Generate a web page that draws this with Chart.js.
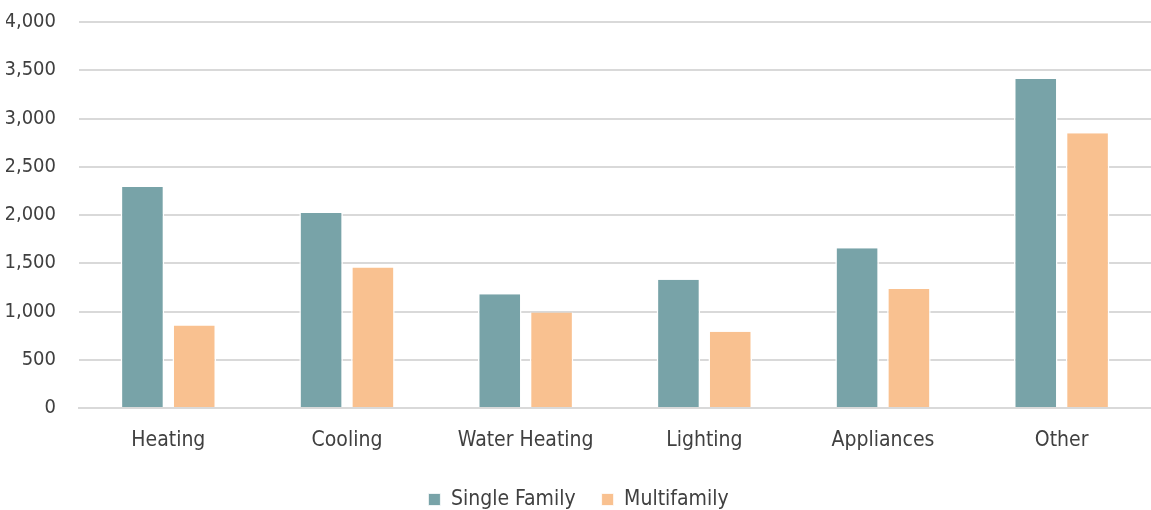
<!DOCTYPE html>
<html>
<head>
<meta charset="utf-8">
<script src="https://cdn.jsdelivr.net/npm/chart.js@4.4.1/dist/chart.umd.min.js"></script>
<style>
  html, body { margin: 0; padding: 0; background: #ffffff; }
  #wrap { width: 1151px; height: 510px; position: relative; }
</style>
</head>
<body>
<div id="wrap"><canvas id="chart"></canvas></div>
<script>
// End-use categories and annual consumption per household type
const categories = ["Heating", "Cooling", "Water Heating", "Lighting", "Appliances", "Other"];
const singleFamily = [2290, 2020, 1180, 1330, 1656, 3410];
const multifamily = [855, 1455, 990, 790, 1233, 2848];
const seriesNames = ["Single Family", "Multifamily"];
const yTicks = [0, 500, 1000, 1500, 2000, 2500, 3000, 3500, 4000];

const FONT = "'DejaVu Sans Condensed', 'Liberation Sans Narrow', sans-serif";
const TEXT = "#404040";
const FS = 21;

new Chart(document.getElementById("chart"), {
  type: "bar",
  data: {
    labels: categories,
    datasets: [
      {
        label: seriesNames[0],
        data: singleFamily,
        backgroundColor: "#78a3a8",
        borderColor: "#ffffff",
        borderWidth: { left: 1.5, right: 1.5, top: 0, bottom: 0 },
        borderSkipped: false
      },
      {
        label: seriesNames[1],
        data: multifamily,
        backgroundColor: "#f9c190",
        borderColor: "#ffffff",
        borderWidth: { left: 1.5, right: 1.5, top: 0, bottom: 0 },
        borderSkipped: false
      }
    ]
  },
  options: {
    responsive: true,
    maintainAspectRatio: false,
    animation: false,
    layout: { padding: { left: 6, right: 0, top: 22, bottom: -10 } },
    datasets: {
      bar: { categoryPercentage: 0.58, barPercentage: 0.84 }
    },
    scales: {
      x: {
        grid: { display: false, drawTicks: false },
        border: { display: true, color: "#d9d9d9", width: 2 },
        afterFit: (axis) => { axis.height = 55; axis.paddingLeft = 0; axis.paddingRight = 0; },
        ticks: {
          color: TEXT,
          font: { family: FONT, size: FS },
          padding: 20,
          maxRotation: 0
        }
      },
      y: {
        min: 0,
        max: 4000,
        afterBuildTicks: (axis) => { axis.ticks = yTicks.map(v => ({ value: v })); },
        afterFit: (axis) => { axis.width = 73; axis.paddingTop = 0; },
        grid: { color: "#d9d9d9", lineWidth: 2, drawTicks: false },
        border: { display: false },
        ticks: {
          color: TEXT,
          font: { family: FONT, size: 20 },
          padding: 23,
          callback: (v) => Number(v).toLocaleString("en-US")
        }
      }
    },
    plugins: {
      tooltip: { enabled: false },
      legend: {
        position: "bottom",
        labels: {
          color: TEXT,
          font: { family: FONT, size: FS },
          boxWidth: 12,
          boxHeight: 12,
          padding: 26
        }
      }
    }
  }
});
</script>
</body>
</html>
